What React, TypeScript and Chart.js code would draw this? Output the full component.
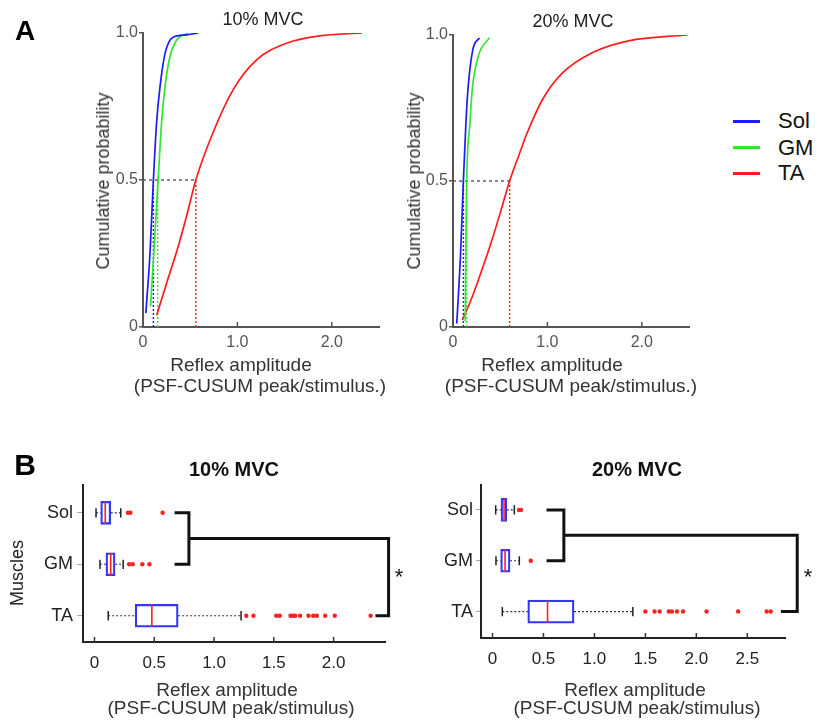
import React, { useEffect, useRef } from 'react';
import { Chart, registerables } from 'chart.js';

Chart.register(...registerables);

const FONT = '"Liberation Sans", Arial, Helvetica, sans-serif';
Chart.defaults.font.family = FONT;

// ---------- shared ----------
const muscles = ['Sol', 'GM', 'TA'];
const HALF = 0.5; // cumulative probability of the median

// ---------- Panel A: cumulative distributions ----------
const sol10X = [0.03, 0.074, 0.11, 0.145, 0.18, 0.233, 0.315, 0.45, 0.586];
const sol10Y = [0.047, 0.25, 0.5, 0.7, 0.817, 0.93, 0.985, 0.993, 1.0];
const gm10X = [0.08, 0.12, 0.16, 0.198, 0.233, 0.286, 0.357, 0.48];
const gm10Y = [0.07, 0.28, 0.5, 0.7, 0.817, 0.92, 0.976, 1.0];
const ta10X = [0.145, 0.25, 0.36, 0.46, 0.56, 0.74, 0.96, 1.2, 1.52, 1.87, 2.32];
const ta10Y = [0.04, 0.149, 0.26, 0.375, 0.5, 0.66, 0.81, 0.908, 0.965, 0.99, 1.0];

const sol20X = [0.04, 0.08, 0.11, 0.137, 0.16, 0.21, 0.28];
const sol20Y = [0.012, 0.25, 0.5, 0.7, 0.82, 0.95, 0.99];
const gm20X = [0.13, 0.135, 0.145, 0.18, 0.205, 0.27, 0.385];
const gm20Y = [0.02, 0.25, 0.5, 0.7, 0.817, 0.93, 0.99];
const ta20X = [0.1, 0.2, 0.3, 0.4, 0.5, 0.6, 0.7, 0.78, 0.95, 1.16, 1.48, 1.86, 2.48];
const ta20Y = [0.024, 0.1, 0.19, 0.285, 0.39, 0.5, 0.59, 0.66, 0.78, 0.87, 0.94, 0.98, 1.0];

const median10 = [0.11, 0.155, 0.56];
const median20 = [0.11, 0.145, 0.6];

const cdfXTicks = [0, 1, 2];
const cdfXTickLabels = ['0', '1.0', '2.0'];
const cdfYTicks = [0, 0.5, 1];
const cdfYTickLabels = ['0', '0.5', '1.0'];

// ---------- Panel B: box plots ----------
const q1_10 = [0.052, 0.096, 0.34];
const q3_10 = [0.136, 0.172, 0.7];
const med_10 = [0.09, 0.136, 0.48];
const lo_10 = [0.013, 0.046, 0.115];
const hi_10 = [0.22, 0.24, 1.226];
const outSol10 = [0.28, 0.3, 0.57];
const outGM10 = [0.29, 0.32, 0.4, 0.46];
const outTA10 = [1.27, 1.33, 1.52, 1.55, 1.64, 1.66, 1.68, 1.72, 1.79, 1.83, 1.86, 1.93, 2.01, 2.31];
const bracket10 = [0.67, 0.79, 2.46, 2.35]; // arm start, join, right edge, TA arm start

const q1_20 = [0.083, 0.08, 0.346];
const q3_20 = [0.14, 0.172, 0.8];
const med_20 = [0.113, 0.123, 0.54];
const lo_20 = [0.031, 0.034, 0.096];
const hi_20 = [0.214, 0.263, 1.377];
const outSol20 = [0.26, 0.28];
const outGM20 = [0.375];
const outTA20 = [1.5, 1.59, 1.64, 1.73, 1.76, 1.81, 1.87, 2.1, 2.41, 2.69, 2.73];
const bracket20 = [0.53, 0.7, 2.99, 2.83];

const boxXTicks10 = [0, 0.5, 1, 1.5, 2];
const boxXTickLabels10 = ['0', '0.5', '1.0', '1.5', '2.0'];
const boxXTicks20 = [0, 0.5, 1, 1.5, 2, 2.5];
const boxXTickLabels20 = ['0', '0.5', '1.0', '1.5', '2.0', '2.5'];
const muscleTicks = [1, 2, 3];

// ---------- styles ----------
const LINE_COLORS = ['#1c1cff', '#2ee82e', '#ff1c1c'];
const BOX_BLUE = '#3535ff';
const RED = '#ff2020';
const MED_HALF = 0.22; // half box height in category units
const CAP_HALF = 0.09;

const innerTicks = {
  id: 'innerTicks',
  afterDatasetsDraw(chart: any, _args: any, opts: any) {
    if (!opts || !opts.enabled) return;
    const { ctx, chartArea } = chart;
    const xs = chart.scales.x;
    ctx.save();
    ctx.strokeStyle = opts.color;
    ctx.lineWidth = opts.width;
    xs.ticks.forEach((t: any) => {
      const px = xs.getPixelForValue(t.value);
      ctx.beginPath();
      ctx.moveTo(px, chartArea.bottom);
      ctx.lineTo(px, chartArea.bottom - opts.length);
      ctx.stroke();
    });
    ctx.restore();
  },
};

const pts = (xs: number[], ys: number[]) => xs.map((x, i) => ({ x, y: ys[i] }));

function seg(data: any[], color: string, width: number, extra: any = {}) {
  return {
    type: 'line',
    data,
    borderColor: color,
    borderWidth: width,
    pointRadius: 0,
    fill: false,
    tension: 0,
    ...extra,
  };
}

function cdfConfig(series: number[][][], medians: number[], d: any) {
  const datasets: any[] = [];
  series.forEach((s, i) =>
    datasets.push(
      seg(pts(s[0], s[1]), LINE_COLORS[i], 1.7, { cubicInterpolationMode: 'monotone' })
    )
  );
  datasets.push(
    seg([{ x: 0, y: HALF }, { x: medians[2], y: HALF }], '#555', 1.4, { borderDash: [3, 3] })
  );
  medians.forEach((m, i) =>
    datasets.push(seg([{ x: m, y: 0 }, { x: m, y: HALF }], LINE_COLORS[i], 1.4, { borderDash: [2, 2] }))
  );
  return {
    type: 'line',
    data: { datasets },
    plugins: [innerTicks],
    options: {
      responsive: false,
      animation: false,
      events: [],
      layout: { padding: { top: d.padTop, right: d.padRight, left: 0, bottom: 0 } },
      plugins: {
        legend: { display: false },
        tooltip: { enabled: false },
        innerTicks: { enabled: true, color: '#555', width: 1.5, length: 5 },
      },
      scales: {
        x: {
          type: 'linear',
          min: 0,
          max: 2.5,
          offset: false,
          afterFit: (s: any) => { s.height = d.xH; },
          afterBuildTicks: (s: any) => { s.ticks = cdfXTicks.map((v) => ({ value: v })); },
          grid: { drawOnChartArea: false, drawTicks: false, offset: false },
          border: { color: '#555', width: 2 },
          ticks: {
            color: '#555',
            font: { size: 16 },
            padding: 6,
            maxRotation: 0,
            autoSkip: false,
            callback: (v: number) => cdfXTickLabels[cdfXTicks.indexOf(v)],
          },
        },
        y: {
          type: 'linear',
          min: 0,
          max: 1,
          offset: false,
          afterFit: (s: any) => { s.width = d.yW; },
          afterBuildTicks: (s: any) => { s.ticks = cdfYTicks.map((v) => ({ value: v })); },
          grid: { drawOnChartArea: false, drawTicks: true, tickLength: 4, color: '#555', lineWidth: 1.5, offset: false },
          border: { color: '#555', width: 2 },
          ticks: {
            color: '#555',
            font: { size: 16 },
            padding: 1,
            autoSkip: false,
            callback: (v: number) => cdfYTickLabels[cdfYTicks.indexOf(v)],
          },
        },
      },
    },
  };
}

function boxConfig(b: any, d: any) {
  const datasets: any[] = [];
  const outs = [b.outSol, b.outGM, b.outTA];
  outs.forEach((arr: number[], i: number) =>
    datasets.push({
      type: 'scatter',
      data: arr.map((x) => ({ x, y: muscleTicks[i] })),
      pointRadius: 2.2,
      pointBackgroundColor: RED,
      pointBorderWidth: 0,
      showLine: false,
    })
  );
  b.med.forEach((m: number, i: number) => {
    const y = muscleTicks[i];
    datasets.push(seg([{ x: m, y: y - MED_HALF }, { x: m, y: y + MED_HALF }], RED, 1.6));
  });
  muscleTicks.forEach((y, i) => {
    datasets.push(seg([{ x: b.lo[i], y: y - CAP_HALF }, { x: b.lo[i], y: y + CAP_HALF }], '#222', 1.5));
    datasets.push(seg([{ x: b.hi[i], y: y - CAP_HALF }, { x: b.hi[i], y: y + CAP_HALF }], '#222', 1.5));
    datasets.push(seg([{ x: b.lo[i], y }, { x: b.q1[i], y }], '#333', 1.2, { borderDash: [2, 2] }));
    datasets.push(seg([{ x: b.q3[i], y }, { x: b.hi[i], y }], '#333', 1.2, { borderDash: [2, 2] }));
  });
  const [a0, aj, ar, at] = b.bracket;
  const ySol = muscleTicks[0];
  const yGM = muscleTicks[1];
  const yTA = muscleTicks[2];
  const yMid = (ySol + yGM) / 2;
  datasets.push(
    seg([{ x: a0, y: ySol }, { x: aj, y: ySol }, { x: aj, y: yGM }, { x: a0, y: yGM }], '#111', 3, { clip: false })
  );
  datasets.push(
    seg([{ x: aj, y: yMid }, { x: ar, y: yMid }, { x: ar, y: yTA }, { x: at, y: yTA }], '#111', 3, { clip: false })
  );
  datasets.push({
    type: 'bar',
    indexAxis: 'y',
    data: b.q1.map((q: number, i: number) => ({ x: [q, b.q3[i]], y: muscleTicks[i] })),
    barThickness: 23,
    borderColor: BOX_BLUE,
    borderWidth: 1.6,
    borderSkipped: false,
    backgroundColor: 'rgba(255,255,255,0)',
  });
  return {
    type: 'line',
    data: { datasets },
    plugins: [innerTicks],
    options: {
      responsive: false,
      animation: false,
      events: [],
      layout: { padding: { top: d.padTop, right: d.padRight, left: 0, bottom: 0 } },
      plugins: {
        legend: { display: false },
        tooltip: { enabled: false },
        innerTicks: { enabled: true, color: '#333', width: 1.5, length: 5 },
      },
      scales: {
        x: {
          type: 'linear',
          min: d.xMin,
          max: d.xMax,
          offset: false,
          afterFit: (s: any) => { s.height = d.xH; },
          afterBuildTicks: (s: any) => { s.ticks = b.xTicks.map((v: number) => ({ value: v })); },
          grid: { drawOnChartArea: false, drawTicks: false, offset: false },
          border: { color: '#222', width: 2 },
          ticks: {
            color: '#222',
            font: { size: 17 },
            padding: 11,
            maxRotation: 0,
            autoSkip: false,
            callback: (v: number) => b.xLabels[b.xTicks.indexOf(v)],
          },
        },
        y: {
          type: 'linear',
          min: d.yMin,
          max: d.yMax,
          reverse: true,
          offset: false,
          afterFit: (s: any) => { s.width = d.yW; },
          afterBuildTicks: (s: any) => { s.ticks = muscleTicks.map((v) => ({ value: v })); },
          grid: { drawOnChartArea: false, drawTicks: true, tickLength: d.tickLen, color: '#aaa', lineWidth: 1, offset: false },
          border: { color: '#222', width: 2 },
          ticks: {
            color: '#222',
            font: { size: 18 },
            padding: d.tickPad,
            autoSkip: false,
            callback: (v: number) => muscles[muscleTicks.indexOf(v)],
          },
        },
      },
    },
  };
}

function ChartCanvas({ left, top, width, height, make }: any) {
  const ref = useRef<HTMLCanvasElement | null>(null);
  useEffect(() => {
    const chart = new Chart(ref.current as HTMLCanvasElement, make());
    return () => chart.destroy();
  }, []);
  return (
    <canvas
      ref={ref}
      width={width}
      height={height}
      style={{ position: 'absolute', left, top, width, height }}
    />
  );
}

function T({ x, y, size, bold, color, rotate, children }: any) {
  return (
    <div
      style={{
        position: 'absolute',
        left: x,
        top: y,
        transform: `translate(-50%, -50%)${rotate ? ' rotate(-90deg)' : ''}`,
        fontSize: size,
        fontWeight: bold ? 'bold' : 'normal',
        color: color || '#222',
        lineHeight: 1,
        whiteSpace: 'nowrap',
      }}
    >
      {children}
    </div>
  );
}

export default function App() {
  const legendY = [121, 147.5, 173];
  return (
    <div
      style={{
        position: 'fixed',
        left: 0,
        top: 0,
        width: 818,
        height: 724,
        background: '#fff',
        fontFamily: FONT,
        overflow: 'hidden',
      }}
    >
      <ChartCanvas
        left={0}
        top={0}
        width={400}
        height={400}
        make={() =>
          cdfConfig(
            [[sol10X, sol10Y], [gm10X, gm10Y], [ta10X, ta10Y]],
            median10,
            { padTop: 33, padRight: 21, yW: 143, xH: 73 }
          )
        }
      />
      <ChartCanvas
        left={400}
        top={0}
        width={300}
        height={400}
        make={() =>
          cdfConfig(
            [[sol20X, sol20Y], [gm20X, gm20Y], [ta20X, ta20Y]],
            median20,
            { padTop: 35, padRight: 11, yW: 53, xH: 73 }
          )
        }
      />
      <ChartCanvas
        left={0}
        top={470}
        width={405}
        height={254}
        make={() =>
          boxConfig(
            {
              q1: q1_10, q3: q3_10, med: med_10, lo: lo_10, hi: hi_10,
              outSol: outSol10, outGM: outGM10, outTA: outTA10,
              bracket: bracket10, xTicks: boxXTicks10, xLabels: boxXTickLabels10,
            },
            { padTop: 15, padRight: 20, yW: 83, xH: 82, xMin: -0.096, xMax: 2.43, yMin: 0.46, yMax: 3.51, tickLen: 6, tickPad: 4 }
          )
        }
      />
      <ChartCanvas
        left={410}
        top={470}
        width={408}
        height={254}
        make={() =>
          boxConfig(
            {
              q1: q1_20, q3: q3_20, med: med_20, lo: lo_20, hi: hi_20,
              outSol: outSol20, outGM: outGM20, outTA: outTA20,
              bracket: bracket20, xTicks: boxXTicks20, xLabels: boxXTickLabels20,
            },
            { padTop: 15, padRight: 33, yW: 71, xH: 86, xMin: -0.113, xMax: 2.87, yMin: 0.51, yMax: 3.52, tickLen: 5, tickPad: 3 }
          )
        }
      />

      <T x={25} y={31} size={28} bold color="#000">A</T>
      <T x={263} y={19} size={18} color="#222">10% MVC</T>
      <T x={573} y={21} size={18} color="#222">20% MVC</T>
      <T x={103} y={181} size={18} color="#333" rotate>Cumulative probability</T>
      <T x={414} y={181} size={18} color="#333" rotate>Cumulative probability</T>
      <T x={241} y={364} size={19} color="#333">Reflex amplitude</T>
      <T x={260} y={385} size={19} color="#333">(PSF-CUSUM peak/stimulus.)</T>
      <T x={552} y={364} size={19} color="#333">Reflex amplitude</T>
      <T x={571} y={385} size={19} color="#333">(PSF-CUSUM peak/stimulus.)</T>

      {muscles.map((m, i) => (
        <React.Fragment key={m}>
          <div
            style={{
              position: 'absolute',
              left: 733,
              top: legendY[i] - 1.5,
              width: 27,
              height: 3,
              background: LINE_COLORS[i],
            }}
          />
          <div
            style={{
              position: 'absolute',
              left: 778,
              top: legendY[i],
              transform: 'translateY(-50%)',
              fontSize: 22,
              lineHeight: 1,
              color: '#111',
            }}
          >
            {m}
          </div>
        </React.Fragment>
      ))}

      <T x={25} y={465} size={30} bold color="#000">B</T>
      <T x={234} y={469} size={20} bold color="#111">10% MVC</T>
      <T x={637} y={469} size={20} bold color="#111">20% MVC</T>
      <T x={17} y={573} size={18} color="#222" rotate>Muscles</T>
      <T x={227} y={689} size={19} color="#333">Reflex amplitude</T>
      <T x={231} y={706.5} size={19} color="#333">(PSF-CUSUM peak/stimulus)</T>
      <T x={635} y={689} size={19} color="#333">Reflex amplitude</T>
      <T x={637} y={706.5} size={19} color="#333">(PSF-CUSUM peak/stimulus)</T>
      <T x={399} y={577} size={22} color="#111">*</T>
      <T x={808} y={577} size={22} color="#111">*</T>
    </div>
  );
}
